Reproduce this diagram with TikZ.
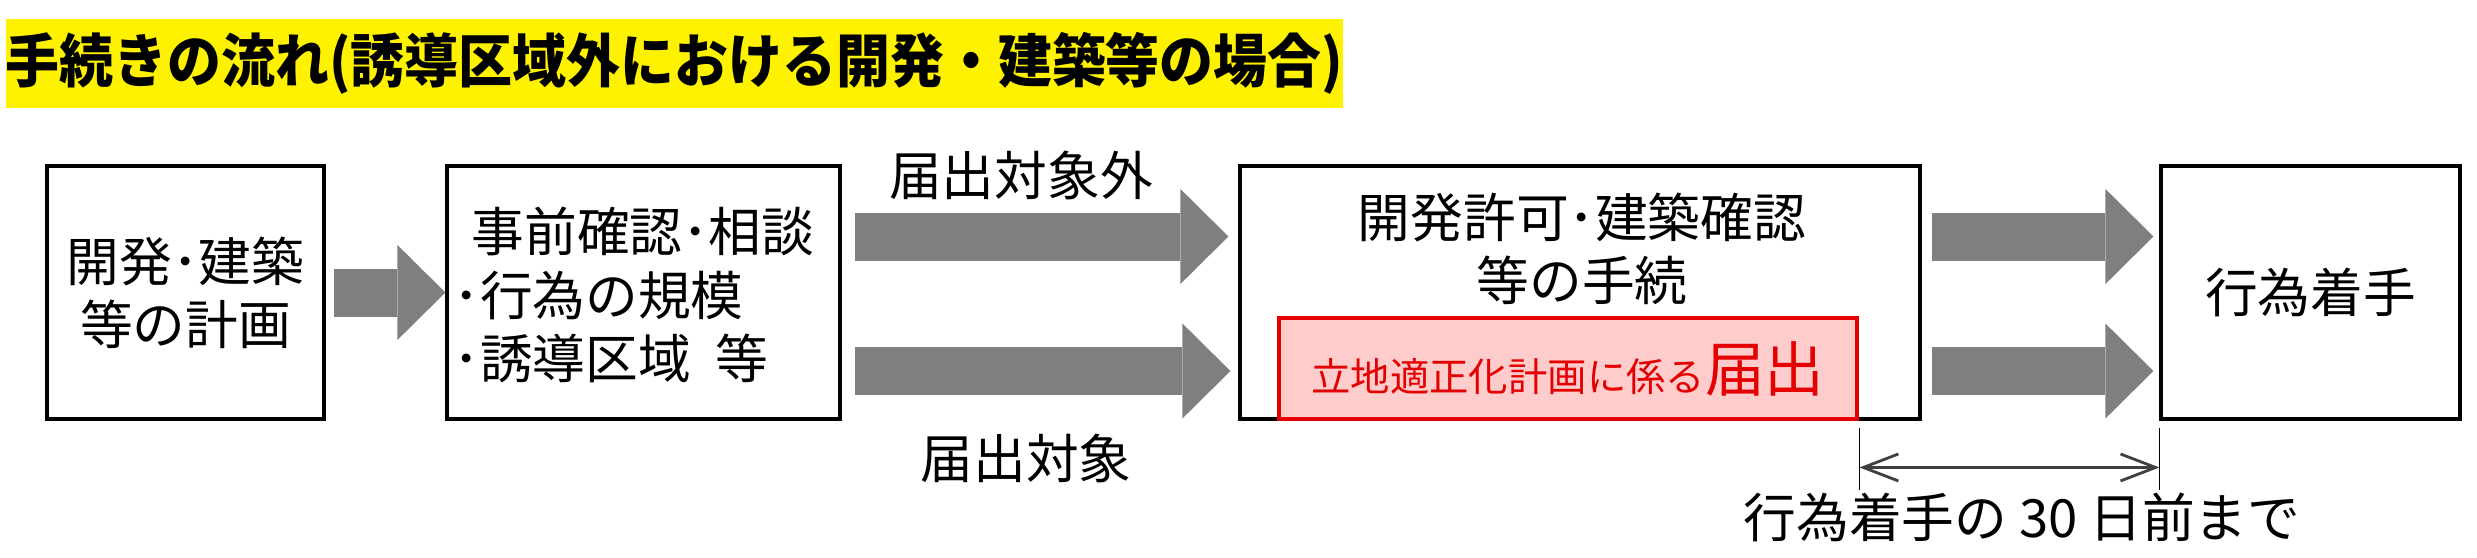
\documentclass[tikz,border=0pt]{standalone}
\usepackage{fontspec}
\setmainfont{Noto Sans CJK JP}
\newfontfamily\titlefont[FakeStretch=0.93]{Noto Sans CJK JP}
\usetikzlibrary{arrows.meta}
\definecolor{flowgray}{RGB}{127,127,127}
\definecolor{noticered}{RGB}{228,0,0}
\definecolor{noticefill}{RGB}{255,204,204}

\begin{document}
\begin{tikzpicture}[
    stage/.style={
      rectangle,
      draw=black,
      line width=0.9pt,
      minimum height=2.53cm,
      inner sep=0pt,
      font=\fontsize{15pt}{18pt}\selectfont
    },
    plaintext/.style={
      inner sep=0pt,
      font=\fontsize{15pt}{18pt}\selectfont
    },
    flow/.style={
      draw=flowgray,
      line width=0.48cm,
      -{Triangle[length=0.48cm,width=0.95cm,line width=0pt]}
    },
    dayspan/.style={
      {Straight Barb[length=0.35cm,width=0.27cm]}-{Straight Barb[length=0.35cm,width=0.27cm]},
      draw=black!75,
      line width=0.8pt
    }
  ]
  \useasboundingbox (0,0) rectangle (24.77,-5.57);

  \node[fill=yellow, minimum width=13.23cm, minimum height=0.89cm, inner sep=0pt,
        font=\titlefont\bfseries\fontsize{16.5pt}{18pt}\selectfont] (title) at (6.745,-0.635)
    {手続きの流れ(誘導区域外における開発・建築等の場合)};

  \node[stage, minimum width=2.77cm, align=center] (plan) at (1.855,-2.925) {開発･建築\\等の計画};
  \node[stage, minimum width=3.93cm] (consult) at (6.435,-2.925) {};
  \node[plaintext, anchor=west, align=left] (consulttext) at (4.53,-2.95)
    {\hspace*{0.18cm}事前確認･相談\\･行為の規模\\･誘導区域\hspace{0.25cm}等};
  \node[stage, minimum width=6.80cm] (procedure) at (15.80,-2.925) {};
  \node[plaintext, align=center] (proceduretext) at (15.82,-2.49) {開発許可･建築確認\\等の手続};
  \node[draw=noticered, fill=noticefill, line width=1.4pt, minimum width=5.78cm,
        minimum height=1.01cm, inner sep=0pt, text=noticered] (notice) at (15.68,-3.685)
    {{\fontsize{11.2pt}{13pt}\selectfont 立地適正化計画に係る}{\fontsize{17pt}{18pt}\selectfont 届出}};
  \node[stage, minimum width=2.99cm] (start) at (23.105,-2.925) {行為着手};

  \node[plaintext] (notrequired) at (10.21,-1.75) {届出対象外};
  \node[plaintext] (required) at (10.26,-4.58) {届出対象};

  \draw[flow, shorten <=0.08cm] (plan.east) -- (consult.west);
  \draw[flow, shorten <=0.13cm, shorten >=0.10cm] ([yshift=0.56cm]consult.east) -- ([yshift=0.56cm]procedure.west);
  \draw[flow, shorten <=0.13cm, shorten >=0.08cm] ([yshift=-0.785cm]consult.east) -- ([yshift=-0.785cm]procedure.west);
  \draw[flow, shorten <=0.10cm, shorten >=0.06cm] ([yshift=0.56cm]procedure.east) -- ([yshift=0.56cm]start.west);
  \draw[flow, shorten <=0.10cm, shorten >=0.06cm] ([yshift=-0.785cm]procedure.east) -- ([yshift=-0.785cm]start.west);

  \coordinate (lead) at ([yshift=-0.46cm]notice.south east);
  \coordinate (onset) at (start.west |- lead);
  \draw[line width=0.5pt] ([yshift=0.39cm]lead) -- ([yshift=-0.23cm]lead);
  \draw[line width=0.5pt] ([yshift=0.39cm]onset) -- ([yshift=-0.23cm]onset);
  \draw[dayspan] (lead) -- (onset);
  \node[plaintext] (deadline) at (20.22,-5.17) {行為着手の 30 日前まで};
\end{tikzpicture}
\end{document}
